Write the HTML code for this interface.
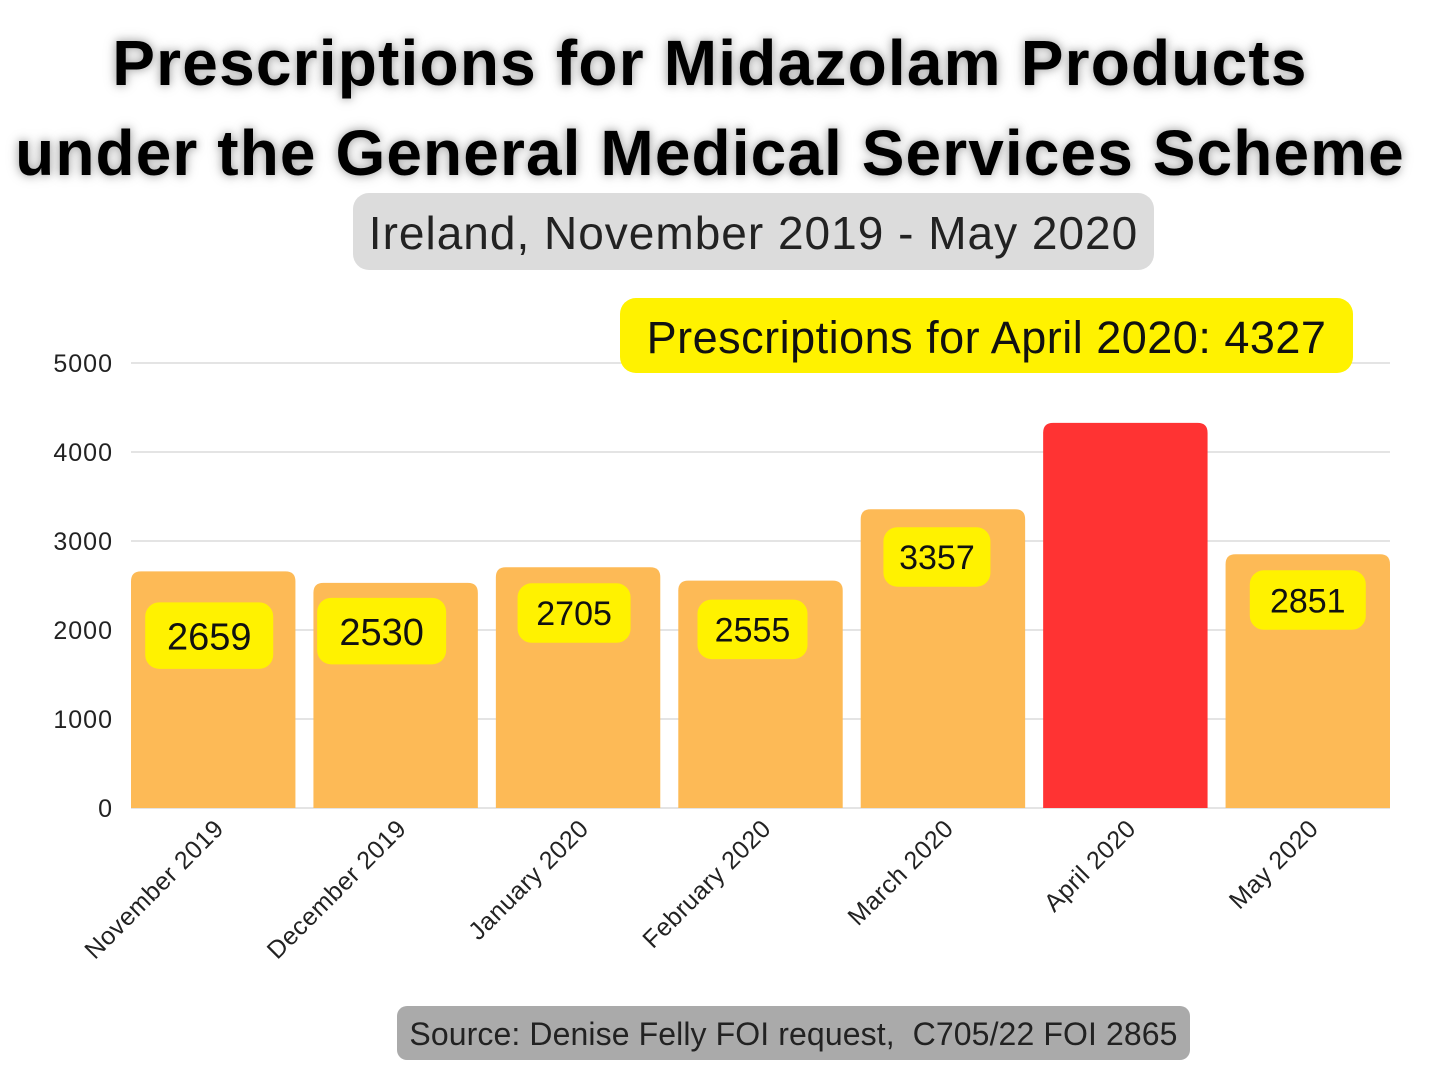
<!DOCTYPE html>
<html><head><meta charset="utf-8"><style>
body{margin:0;background:#fff;width:1456px;height:1076px;overflow:hidden;font-family:"Liberation Sans",sans-serif}
.t{position:absolute;left:0;width:1420px;text-align:center;font-weight:bold;font-size:64px;letter-spacing:1px;color:#000;text-shadow:0 0 8px #aaa,0 0 14px #ccc;white-space:nowrap}
.box{position:absolute;border-radius:16px;text-align:center;color:#111;white-space:nowrap}
</style></head><body>
<div class="t" style="top:26px;letter-spacing:1.2px">Prescriptions for Midazolam Products</div>
<div class="t" style="top:116px;letter-spacing:1.1px">under the General Medical Services Scheme</div>
<div class="box" style="left:353px;top:193px;width:801px;height:77px;background:#dcdcdc;font-size:46px;letter-spacing:1px;line-height:80px;color:#222">Ireland, November 2019 - May 2020</div>
<svg id="c" width="1456" height="1076" style="position:absolute;left:0;top:0"></svg>
<div class="box" style="left:620px;top:298px;width:733px;height:75px;background:#fff200;font-size:45px;letter-spacing:0.5px;line-height:80px;color:#111">Prescriptions for April 2020: 4327</div>
<div class="box" style="left:397px;top:1006px;width:793px;height:54px;background:#aaaaaa;font-size:32px;letter-spacing:0.1px;line-height:57px;border-radius:10px;color:#222">Source: Denise Felly FOI request,&nbsp; C705/22 FOI 2865</div>
<script>
const categories=["November 2019","December 2019","January 2020","February 2020","March 2020","April 2020","May 2020"];
const values=[2659,2530,2705,2555,3357,4327,2851];
const tickValues=[0,1000,2000,3000,4000,5000];
const labelOffsets=[31,15,16,19,18,null,16];
const labelSizes=[38,38,34,34,34,0,34];
const labelWidths=[128,129,113,110,107,0,116];
const NS="http://www.w3.org/2000/svg";
const svg=document.getElementById('c');
const x0=131,x1=1390,yBase=808,yTop=363,maxV=5000;
const y=v=>yBase-(v/maxV)*(yBase-yTop);
const step=(x1-x0+18)/categories.length,bw=step-18;
const bx=i=>x0+i*step;
function mk(t,a){const e=document.createElementNS(NS,t);for(const k in a)e.setAttribute(k,a[k]);svg.appendChild(e);return e;}
tickValues.forEach(v=>{
 const l=mk('line',{x1:x0,x2:x1,y1:y(v),y2:y(v),stroke:'#c8c8c8','stroke-width':1});
 
 
 const t=mk('text',{x:113,y:y(v)+9,'text-anchor':'end','font-size':25,'letter-spacing':1,fill:'#222','font-family':'Liberation Sans'});
 t.textContent=v;
 
 
});
values.forEach((v,i)=>{
 const X=bx(i),Y=y(v),r=10;
 const p=mk('path',{d:`M${X},${yBase}V${Y+r}Q${X},${Y} ${X+r},${Y}H${X+bw-r}Q${X+bw},${Y} ${X+bw},${Y+r}V${yBase}Z`,fill:i===5?'#ff3333':'#fdba56'});
 
 
 if(labelOffsets[i]!==null){
  const w=labelWidths[i],hh=labelSizes[i]*1.75,cx=X+bw/2+(i===0?-4:i===1?-14:i===2?-4:i===3?-8:i===4?-6:0);
  const bxr=mk('rect',{x:cx-w/2,y:Y+labelOffsets[i],width:w,height:hh,rx:14,fill:'#fff200'});
  
  
  const t=mk('text',{x:cx,y:Y+labelOffsets[i]+hh/2+labelSizes[i]*0.36,'text-anchor':'middle','font-size':labelSizes[i],fill:'#111','font-family':'Liberation Sans'});
  t.textContent=v;
  
  
 }
 const lx=X+bw/2+12,ly=830;
 const t=mk('text',{x:lx,y:ly,'text-anchor':'end','font-size':25,'letter-spacing':0.5,fill:'#222','font-family':'Liberation Sans',transform:`rotate(-45 ${lx} ${ly})`});
 t.textContent=categories[i];
 
 
});
</script>
</body></html>
